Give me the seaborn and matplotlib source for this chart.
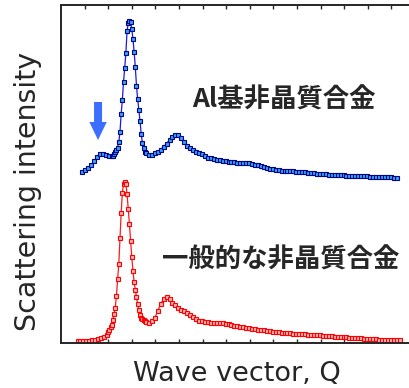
import numpy as np
import pandas as pd
import seaborn as sns
import matplotlib
matplotlib.use("Agg")
import matplotlib.pyplot as plt

# scattering curves (Q in tick units, intensity in arbitrary units)
blue_q = np.round(np.concatenate([np.arange(0.9, 2.16, 0.125),
                                  np.arange(2.2, 3.56, 0.05),
                                  np.arange(3.6, 14.3, 0.125)]), 3)
blue_i = [171, 173, 175, 178, 182, 186, 189, 189, 188, 187, 187,
          187, 189, 191, 193, 195.5, 201, 211, 229, 243, 261,
          275, 290, 312, 320, 322, 321.5, 314, 304, 291, 276,
          257, 244, 233, 222, 209, 200, 195, 191.5,
          190, 188, 188.5, 190, 191.5, 193.5, 196.5, 199.5, 203, 206,
          207.8, 208, 205.5, 201, 197.5, 195, 193, 191.5, 190.5, 189,
          187, 185.5, 184.7, 184, 183.5, 183, 182.5, 182, 181.5, 181,
          180.8, 180.5, 180.3, 180, 180, 179.7, 179, 178.5, 178, 177,
          176, 175, 174.3, 173.8, 173.3, 172.8, 172.5, 172.2, 172, 171.8,
          171.6, 171.4, 171.2, 171, 170.7, 170.4, 170.1, 169.8, 169.5, 169.2,
          169, 168.7, 168.5, 168.3, 168.2, 168, 167.8, 167.6, 167.4, 167.3,
          167.2, 167, 166.9, 166.8, 166.7, 166.6, 166.5, 166.3, 166.2, 166,
          165.9, 165.8, 165.7, 165.6, 165.5, 165.3]

red_q = np.round(np.concatenate([np.arange(0.7, 1.96, 0.125),
                                 np.arange(2.0, 3.56, 0.05),
                                 np.arange(3.6, 14.4, 0.125)]), 3)
red_i = [2, 2, 2, 2, 2.3, 2.7, 3.5, 4.2, 4.7, 5.8, 8.5,
         11, 13.5, 16, 18.5, 23, 29, 35.5, 47, 64, 79,
         105, 130, 150, 159, 161, 159, 149, 134, 119, 102,
         86, 72, 61, 53, 46, 39, 33, 28, 25.5, 24, 23, 22,
         21.3, 20.5, 22, 25, 32, 39, 44, 46.3, 44.5, 40.5,
         38, 35.5, 33.5, 31.7, 30, 28, 25.7, 24, 22.5, 21.7,
         21, 20.6, 20.4, 20.3, 20.3, 20, 19.7, 19.2, 18.6, 18,
         17.4, 16.8, 16.2, 15.8, 15.3, 14.8, 14.4, 13.9, 13.4, 13,
         12.6, 12.2, 11.8, 11.4, 11, 10.7, 10.4, 10.1, 9.8, 9.6,
         9.4, 9.2, 9, 8.8, 8.6, 8.4, 8.2, 8, 7.8, 7.6,
         7.4, 7.2, 7, 6.7, 6.5, 6.3, 6.1, 5.9, 5.7, 5.5,
         5.3, 5.1, 4.9, 4.7, 4.5, 4.3, 4.1, 3.9, 3.7, 3.5,
         3.3, 3.1, 3, 3, 3, 2.9, 2.8]

label_al = "Al基非晶質合金"
label_common = "一般的な非晶質合金"
xticks = list(range(1, 15))

blue_df = pd.DataFrame({"Q": blue_q, "I": blue_i})
red_df = pd.DataFrame({"Q": red_q, "I": red_i})

sns.set_style("ticks")
plt.rcParams["font.family"] = ["DejaVu Sans", "Noto Sans CJK JP"]

fig = plt.figure(figsize=(4.09, 3.88), dpi=100)
ax = fig.add_axes([61 / 409, 45 / 388, 348 / 409, 338 / 388])

sns.lineplot(data=blue_df, x="Q", y="I", ax=ax, color="#1a1ae6", lw=0.9,
             marker="s", markersize=3.0, markerfacecolor="#2fa8ea",
             markeredgecolor="#00008b", markeredgewidth=0.8)
sns.lineplot(data=red_df, x="Q", y="I", ax=ax, color="#ff1a1a", lw=0.9,
             marker="s", markersize=3.0, markerfacecolor="#ffb3b3",
             markeredgecolor="#ff0000", markeredgewidth=0.8)

# arrow pointing at the pre-peak
ax.arrow(1.57, 241, 0, -38, width=0.34, head_width=0.74, head_length=18,
         length_includes_head=True, color="#3c6eff", lw=0)

cjk = ["Noto Sans CJK JP", "DejaVu Sans"]
ax.text(5.55, 243, label_al, family=cjk, fontsize=19, fontweight="bold",
        ha="left", va="center")
ax.text(4.28, 83, label_common, family=cjk, fontsize=19, fontweight="bold",
        ha="left", va="center")

ax.set_xlim(0, 14.75)
ax.set_ylim(0, 338)
ax.set_xticks(xticks)
ax.set_yticks([])
ax.tick_params(axis="x", direction="in", top=True, bottom=True, length=3,
               width=1, labelbottom=False)
for side in ["left", "top", "bottom"]:
    ax.spines[side].set_linewidth(1.4)
ax.spines["right"].set_visible(False)

ax.set_xlabel("Wave vector, Q", fontsize=19.5)
ax.set_ylabel("Scattering intensity", fontsize=20.5)
ax.xaxis.set_label_coords(0.504, -0.053)
ax.yaxis.set_label_coords(-0.055, 0.447)

fig.savefig("out.png", dpi=100)
